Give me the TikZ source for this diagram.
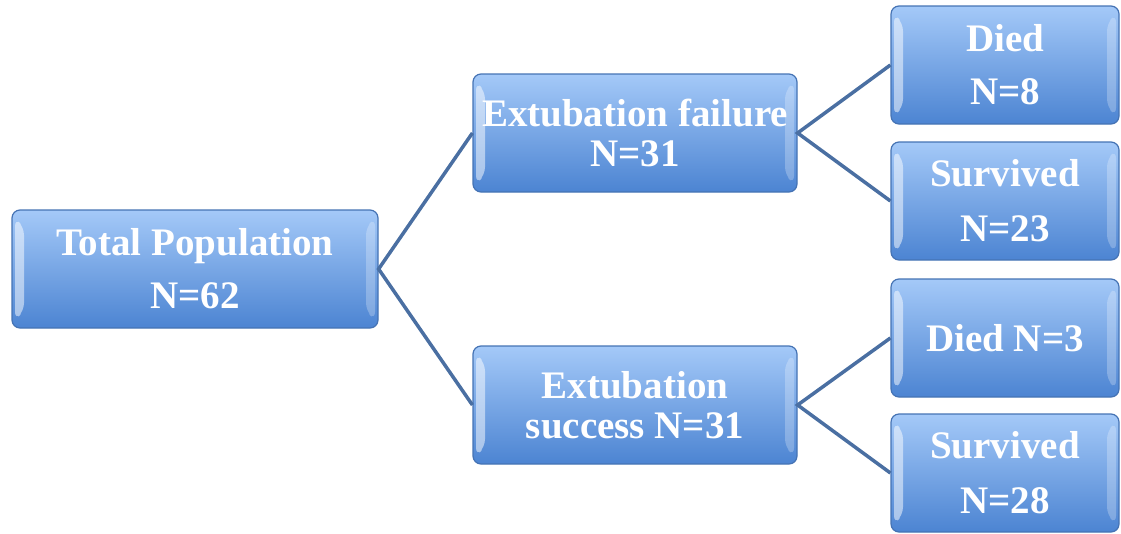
\documentclass[tikz,border=0pt]{standalone}
\usepackage{fontspec}
\setmainfont{Liberation Serif}
\definecolor{boxtop}{HTML}{A4C9F8}
\definecolor{boxbot}{HTML}{4C84D2}
\definecolor{boxline}{HTML}{4573B4}
\definecolor{link}{HTML}{4A6FA2}
\tikzset{
  stage/.style = {rectangle, rounded corners=8pt, draw=boxline, line width=1.2pt,
                  top color=boxtop, bottom color=boxbot, text=white,
                  font=\fontsize{39}{#1}\selectfont\bfseries, align=center,
                  inner sep=0pt, minimum height=118pt,
                  path picture={
                    \fill[white, opacity=0.5] (path picture bounding box.north west)
                      ++(3pt,-8pt) -- ++(9pt,-9pt) -- ++(0,-84pt) -- ++(-9pt,-9pt) -- cycle;
                    \fill[white, opacity=0.25] (path picture bounding box.north east)
                      ++(-3pt,-8pt) -- ++(-9pt,-9pt) -- ++(0,-84pt) -- ++(9pt,-9pt) -- cycle;
                  }},
  stage/.default = 53pt,
  link/.style = {draw=link, line width=3.5pt}
}
\begin{document}
\begin{tikzpicture}[x=1pt, y=-1pt]
	\def \wtot{366pt}
	\def \wmid{324pt}
	\def \wend{228pt}
	
	\useasboundingbox (0,0) rectangle (1121,533);
	
	% Root
	\node[stage, minimum width=\wtot] (tot) at (195,269) {Total Population\\N=62};
	
	% Extubation
	\node[stage=40pt, minimum width=\wmid] (fail) at (635,133) {Extubation failure\\N=31};
	\node[stage=40pt, minimum width=\wmid] (succ) at (635,405) {Extubation\\success N=31};
	
	% Outcome
	\node[stage, minimum width=\wend] (faildied) at (1005,65)  {Died\\N=8};
	\node[stage=55pt, minimum width=\wend] (failsurv) at (1005,201) {Survived\\N=23};
	\node[stage, minimum width=\wend] (succdied) at (1005,338) {Died N=3};
	\node[stage=55pt, minimum width=\wend] (succsurv) at (1005,473) {Survived\\N=28};
	
	% Links
	\draw[link] (fail.west) -- (tot.east) -- (succ.west);
	\draw[link] (faildied.west) -- (fail.east) -- (failsurv.west);
	\draw[link] (succdied.west) -- (succ.east) -- (succsurv.west);
	
\end{tikzpicture}
\end{document}
